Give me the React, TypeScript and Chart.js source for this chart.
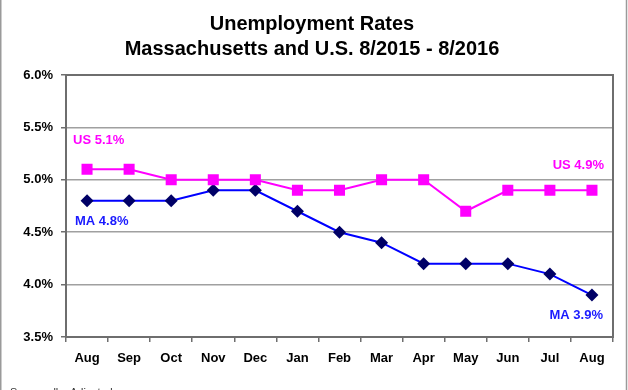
import React, { useEffect, useRef } from "react";
import { Chart, registerables } from "chart.js";

Chart.register(...registerables);

const months = ["Aug", "Sep", "Oct", "Nov", "Dec", "Jan", "Feb", "Mar", "Apr", "May", "Jun", "Jul", "Aug"];
const usRates = [5.1, 5.1, 5.0, 5.0, 5.0, 4.9, 4.9, 5.0, 5.0, 4.7, 4.9, 4.9, 4.9];
const maRates = [4.8, 4.8, 4.8, 4.9, 4.9, 4.7, 4.5, 4.4, 4.2, 4.2, 4.2, 4.1, 3.9];
const titleLines = ["Unemployment Rates", "Massachusetts and U.S. 8/2015 - 8/2016"];
const footnote = "Seasonally  Adjusted";

const FONT = "'Liberation Sans', Arial, sans-serif";

const decorPlugin = {
  id: "decor",
  afterDraw(chart: any) {
    const { ctx, chartArea, scales } = chart;
    const xs = scales.x;
    const ys = scales.y;
    ctx.save();
    // plot border
    ctx.strokeStyle = "#6e6e6e";
    ctx.lineWidth = 2;
    ctx.strokeRect(chartArea.left, chartArea.top, chartArea.right - chartArea.left, chartArea.bottom - chartArea.top);
    // title
    ctx.fillStyle = "#000";
    ctx.textAlign = "center";
    ctx.textBaseline = "alphabetic";
    ctx.font = `bold 20px ${FONT}`;
    ctx.fillText(titleLines[0], 312, 30);
    ctx.fillText(titleLines[1], 312, 55);
    // annotations
    ctx.font = `bold 13px ${FONT}`;
    ctx.textBaseline = "middle";
    const last = months.length - 1;
    ctx.fillStyle = "#ff00ff";
    ctx.textAlign = "left";
    ctx.fillText(`US ${usRates[0].toFixed(1)}%`, xs.getPixelForValue(0) - 14, ys.getPixelForValue(usRates[0]) - 29);
    ctx.textAlign = "right";
    ctx.fillText(`US ${usRates[last].toFixed(1)}%`, xs.getPixelForValue(last) + 12, ys.getPixelForValue(usRates[last]) - 25);
    ctx.fillStyle = "#1a1aff";
    ctx.textAlign = "left";
    ctx.fillText(`MA ${maRates[0].toFixed(1)}%`, xs.getPixelForValue(0) - 12, ys.getPixelForValue(maRates[0]) + 21);
    ctx.textAlign = "right";
    ctx.fillText(`MA ${maRates[last].toFixed(1)}%`, xs.getPixelForValue(last) + 11, ys.getPixelForValue(maRates[last]) + 20);
    // footnote
    ctx.fillStyle = "#333";
    ctx.textAlign = "left";
    ctx.textBaseline = "alphabetic";
    ctx.font = `11px ${FONT}`;
    ctx.fillText(footnote, 10, 396);
    // outer frame
    ctx.strokeStyle = "#9a9a9a";
    ctx.lineWidth = 1.5;
    ctx.beginPath();
    ctx.moveTo(0.75, 0);
    ctx.lineTo(0.75, 390);
    ctx.moveTo(626.5, 0);
    ctx.lineTo(626.5, 390);
    ctx.stroke();
    ctx.restore();
  },
};

export default function App() {
  const ref = useRef<HTMLCanvasElement>(null);
  useEffect(() => {
    document.body.style.margin = "0";
    const chart = new Chart(ref.current!, {
      type: "line",
      data: {
        labels: months,
        datasets: [
          {
            label: "US",
            data: usRates,
            borderColor: "#ff00ff",
            backgroundColor: "#ff00ff",
            borderWidth: 2,
            pointStyle: "rect",
            pointRadius: 7.8,
            pointBorderWidth: 0,
            pointBackgroundColor: "#ff00ff",
            tension: 0,
          },
          {
            label: "MA",
            data: maRates,
            borderColor: "#0000ff",
            backgroundColor: "#000080",
            borderWidth: 2,
            pointStyle: "rectRot",
            pointRadius: 6.5,
            pointBorderWidth: 0,
            pointBackgroundColor: "#000066",
            tension: 0,
          },
        ],
      },
      options: {
        responsive: false,
        animation: false,
        events: [],
        layout: { padding: { top: 75, right: 15, left: 0, bottom: 0 } },
        plugins: {
          legend: { display: false },
          title: { display: false },
          tooltip: { enabled: false },
        },
        scales: {
          x: {
            type: "category",
            offset: true,
            grid: {
              display: true,
              offset: true,
              drawOnChartArea: false,
              drawTicks: true,
              tickLength: 5,
              color: "#6e6e6e",
              lineWidth: 1.5,
            },
            border: { display: true, color: "#6e6e6e", width: 2 },
            ticks: {
              color: "#000",
              font: { family: FONT, size: 13, weight: "bold" },
              padding: 9,
              maxRotation: 0,
              autoSkip: false,
            },
            afterFit: (s: any) => {
              s.height = 53;
            },
          },
          y: {
            min: 3.5,
            max: 6.0,
            ticks: {
              stepSize: 0.5,
              color: "#000",
              font: { family: FONT, size: 13, weight: "bold" },
              padding: 8,
              callback: (v: any) => Number(v).toFixed(1) + "%",
            },
            grid: {
              color: "#a0a0a0",
              lineWidth: 1.5,
              tickLength: 5,
              tickColor: "#6e6e6e",
            },
            border: { display: true, color: "#6e6e6e", width: 2 },
            afterFit: (s: any) => {
              s.width = 66;
            },
          },
        },
      },
      plugins: [decorPlugin],
    });
    return () => chart.destroy();
  }, []);
  return (
    <div style={{ position: "absolute", left: 0, top: 0, width: 628, height: 390, background: "#fff" }}>
      <canvas ref={ref} width={628} height={390} style={{ display: "block" }} />
    </div>
  );
}
